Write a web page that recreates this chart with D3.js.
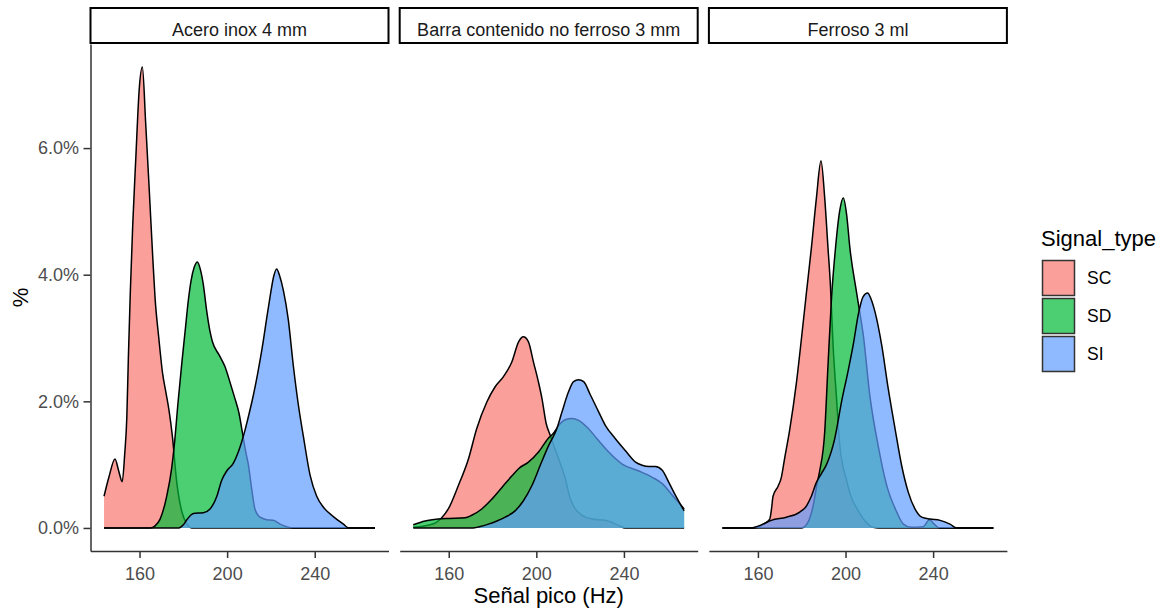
<!DOCTYPE html>
<meta charset="utf-8">
<style>

body {
  margin: 0;
  background: #fff;
}

text {
  font-family: "Liberation Sans", Arial, sans-serif;
}

.axis path,
.axis line {
  stroke: #333;
  stroke-width: 1.5px;
}

.axis text {
  fill: #4d4d4d;
  font-size: 18px;
}

.strip rect {
  fill: #fff;
  stroke: #000;
  stroke-width: 2px;
}

.strip text {
  fill: #1a1a1a;
  font-size: 18px;
}

.outline {
  fill: none;
  stroke: #000;
  stroke-width: 1.5px;
}

</style>
<body>
<script src="https://cdn.jsdelivr.net/npm/d3@7"></script>
<script>

// facets and groups
var facets = ["Acero inox 4 mm", "Barra contenido no ferroso 3 mm", "Ferroso 3 ml"];
var signalTypes = ["SC", "SD", "SI"];
var xTicks = [160, 200, 240];
var yTicks = [0, 2, 4, 6];

// density curves: [Hz, %]
var aceroSC = [[143.8,0.5],[146,0.8],[148.8,1.09],[150.5,0.9],[152.1,0.73],[153.2,1.15],[154.2,1.75],[154.9,2.68],
  [155.8,3.73],[156.9,4.79],[158.3,5.84],[159.9,6.95],[161.3,7.28],[162.8,6.4],[164.5,5.3],[166,4.3],[167.1,3.63],
  [168.8,3.0],[170.5,2.45],[172,2.15],[173.5,1.85],[175,1.45],[177,0.72],[179.3,0.26],[181.5,0.07],[184,0],[267.5,0]];
var aceroSD = [[143.8,0],[165,0],[167,0.03],[169.4,0.14],[172.4,0.5],[174.7,0.95],[176,1.35],[177.5,1.95],[179.3,2.6],
  [180.8,3.1],[182.3,3.6],[183.5,3.9],[185,4.12],[186.4,4.2],[187.8,4.08],[189.1,3.85],[190.7,3.42],[192.2,3.1],
  [193.3,2.94],[196.4,2.73],[199,2.55],[201.5,2.28],[203.5,2.05],[205.5,1.8],[207,1.5],[208.5,1.2],[209.7,1.0],
  [211.2,0.62],[212.7,0.3],[215,0.17],[218.1,0.13],[221.1,0.12],[224.2,0.06],[227.2,0.02],[230,0],[267.5,0]];
var aceroSI = [[143.8,0],[178,0],[180,0.05],[181.6,0.13],[184.6,0.23],[189.1,0.24],[192.2,0.3],[195.3,0.5],[197.5,0.75],
  [199.8,0.9],[202.8,1.02],[205.1,1.2],[208.2,1.55],[210,1.8],[212,2.1],[214,2.45],[216.5,2.95],[218,3.3],[219.6,3.65],
  [221.3,3.98],[222.6,4.09],[224,3.98],[225.7,3.75],[227.9,3.3],[230.2,2.57],[232.5,1.95],[234.8,1.45],[237.9,0.83],
  [240.9,0.5],[243.9,0.33],[248.5,0.18],[253.1,0.06],[255.5,0],[267.5,0]];

var barraSC = [[143.8,0.01],[150,0.04],[154,0.08],[156.8,0.16],[159.8,0.3],[164.4,0.67],[169,1.09],[172.8,1.57],
  [177.4,1.99],[181.2,2.23],[185,2.39],[188.8,2.62],[191.9,2.94],[194.1,3.02],[196.4,2.94],[198.7,2.62],[201,2.3],
  [202.6,2.04],[204.5,1.65],[206.4,1.46],[208,1.3],[210.2,1.09],[213.2,0.78],[215.5,0.46],[217.8,0.3],[220.9,0.2],
  [225.4,0.14],[231.5,0.12],[237.6,0.04],[240.5,0],[267.5,0]];
var barraSD = [[143.8,0.05],[149.2,0.11],[155.2,0.14],[160,0.15],[167.5,0.16],[170.5,0.2],[175.1,0.3],[179.3,0.44],
  [184.3,0.64],[188.8,0.82],[192,0.94],[196.4,1.04],[201,1.2],[205.3,1.41],[207.9,1.5],[210.2,1.62],[213.2,1.71],
  [216.3,1.73],[219.3,1.7],[223.2,1.59],[227.7,1.41],[232.5,1.22],[239.2,1.01],[246.8,0.9],[252.9,0.8],[257.5,0.7],
  [262,0.52],[265,0.4],[267.5,0.3]];
var barraSI = [[143.8,0],[171,0],[174,0.02],[178.1,0.06],[182,0.11],[185.8,0.17],[190.3,0.27],[194.1,0.43],[198,0.67],
  [201.8,0.99],[205.6,1.3],[209.4,1.57],[211.7,1.83],[214.7,2.15],[217,2.31],[219.3,2.34],[221.6,2.31],[224.7,2.1],
  [228.5,1.83],[231.5,1.62],[236.1,1.41],[240.7,1.22],[245.3,1.04],[248.3,0.99],[251.5,0.97],[254.4,0.97],[257.5,0.91],
  [260.5,0.72],[263.6,0.51],[267.5,0.27]];

var ferroSC = [[143.8,0],[158,0],[160.5,0.02],[163,0.07],[165.4,0.14],[166.2,0.3],[166.9,0.5],[169.2,0.66],[170.7,0.8],
  [172.2,1.1],[174.5,1.55],[177.6,2.3],[179.9,3.0],[182.1,3.7],[184.4,4.42],[186.7,5.21],[188.8,5.8],[190.5,5.21],
  [192,4.42],[193.1,3.84],[194.3,2.9],[195.9,2.04],[197.4,1.3],[200.5,0.75],[203,0.45],[205,0.32],[208,0.15],
  [212.6,0.01],[215,0],[267.5,0]];
var ferroSD = [[143.8,0],[180,0],[183,0.1],[185.5,0.4],[187,0.7],[188.2,0.9],[190.5,1.52],[192,2.57],[193.6,3.63],
  [195.5,4.45],[197.3,5.0],[199,5.21],[200.5,4.95],[202,4.42],[205,3.73],[206.2,3.47],[208.1,3.05],[211.1,2.09],
  [214.9,1.3],[218.8,0.67],[223.4,0.25],[226.4,0.06],[230,0.01],[235.5,0.02],[238.3,0.13],[240.5,0.06],[243,0],[267.5,0]];
var ferroSI = [[143.8,0],[157,0],[158.5,0.01],[162.3,0.06],[166.1,0.12],[173,0.17],[179.1,0.25],[182.2,0.35],[184.4,0.5],
  [186.7,0.72],[189,0.86],[191.3,1.0],[195,1.4],[198.5,2.05],[201,2.45],[203.5,2.89],[206,3.4],[208,3.65],[210.1,3.71],
  [211.6,3.62],[213.4,3.42],[216.5,2.89],[219.5,2.2],[222.6,1.57],[225.6,0.99],[228.6,0.57],[231.7,0.3],[234.8,0.17],
  [238.6,0.14],[243.2,0.12],[247.7,0.06],[250.8,0],[267.5,0]];

var densities = {};
densities[facets[0]] = {SC: aceroSC, SD: aceroSD, SI: aceroSI};
densities[facets[1]] = {SC: barraSC, SD: barraSD, SI: barraSI};
densities[facets[2]] = {SC: ferroSC, SD: ferroSD, SI: ferroSI};

var colors = {SC: "#F8766D", SD: "#00BA38", SI: "#619CFF"};

var width = 1161,
    height = 615;

var panelTop = 44,
    panelBottom = 551,
    panelLeft = 90.5,
    panelW = 298,
    panelGap = 11.2,
    panelH = panelBottom - panelTop;

var svg = d3.select("body").append("svg")
    .attr("width", width)
    .attr("height", height);

// shared scales, expanded 5% like ggplot
var allPts = d3.merge(facets.map(function(f) {
  return d3.merge(signalTypes.map(function(t) { return densities[f][t]; }));
}));
var xExt = d3.extent(allPts, function(d) { return d[0]; });
var xPad = (xExt[1] - xExt[0]) * 0.05;
var yMax = d3.max(allPts, function(d) { return d[1]; });

var x = d3.scaleLinear()
    .domain([xExt[0] - xPad, xExt[1] + xPad])
    .range([0, panelW]);

var y = d3.scaleLinear()
    .domain([-yMax * 0.05, yMax * 1.05])
    .range([panelH, 0]);

var area = d3.area()
    .curve(d3.curveMonotoneX)
    .x(function(d) { return x(d[0]); })
    .y0(y(0))
    .y1(function(d) { return y(d[1]); });

var line = d3.line()
    .curve(d3.curveMonotoneX)
    .x(function(d) { return x(d[0]); })
    .y(function(d) { return y(d[1]); });

facets.forEach(function(f, i) {
  var left = panelLeft + i * (panelW + panelGap);

  var g = svg.append("g")
      .attr("transform", "translate(" + left + "," + panelTop + ")");

  // each group: fill then upper outline
  signalTypes.forEach(function(t) {
    g.append("path")
        .attr("d", area(densities[f][t]))
        .attr("fill", colors[t])
        .attr("fill-opacity", 0.7);
    g.append("path")
        .attr("class", "outline")
        .attr("d", line(densities[f][t]));
  });

  g.append("g")
      .attr("class", "axis")
      .attr("transform", "translate(0," + panelH + ")")
      .call(d3.axisBottom(x).tickValues(xTicks).tickSize(7).tickSizeOuter(0).tickPadding(9.5));

  if (i == 0) {
    g.append("g")
        .attr("class", "axis")
        .call(d3.axisLeft(y).tickValues(yTicks).tickSize(7).tickSizeOuter(0).tickPadding(4.5)
          .tickFormat(function(d) { return d.toFixed(1) + "%"; }));
  }

  var strip = svg.append("g")
      .attr("class", "strip")
      .attr("transform", "translate(" + left + ",8)");
  strip.append("rect")
      .attr("width", panelW)
      .attr("height", 35);
  strip.append("text")
      .attr("x", panelW / 2)
      .attr("y", 27.5)
      .attr("text-anchor", "middle")
      .text(f);
});

// axis titles
svg.append("text")
    .attr("x", panelLeft + (3 * panelW + 2 * panelGap) / 2)
    .attr("y", 603)
    .attr("text-anchor", "middle")
    .style("font-size", "22px")
    .text("Señal pico (Hz)");

svg.append("text")
    .attr("transform", "translate(28," + (panelTop + panelH / 2) + ") rotate(-90)")
    .attr("text-anchor", "middle")
    .style("font-size", "22px")
    .text("%");

// legend
var legend = svg.append("g")
    .attr("transform", "translate(1042,0)");

legend.append("text")
    .attr("x", -1)
    .attr("y", 246)
    .style("font-size", "22px")
    .text("Signal_type");

var key = legend.selectAll(".key")
    .data(signalTypes)
  .enter().append("g")
    .attr("class", "key")
    .attr("transform", function(d, i) { return "translate(0," + (260 + 38 * i) + ")"; });

key.append("rect")
    .attr("x", 0.5)
    .attr("y", 0.5)
    .attr("width", 32)
    .attr("height", 35)
    .attr("fill", function(d) { return colors[d]; })
    .attr("fill-opacity", 0.7)
    .attr("stroke", "#333")
    .attr("stroke-width", 1.5);

key.append("text")
    .attr("x", 45)
    .attr("y", 18)
    .attr("dy", "0.35em")
    .style("font-size", "17.5px")
    .text(function(d) { return d; });

</script>
